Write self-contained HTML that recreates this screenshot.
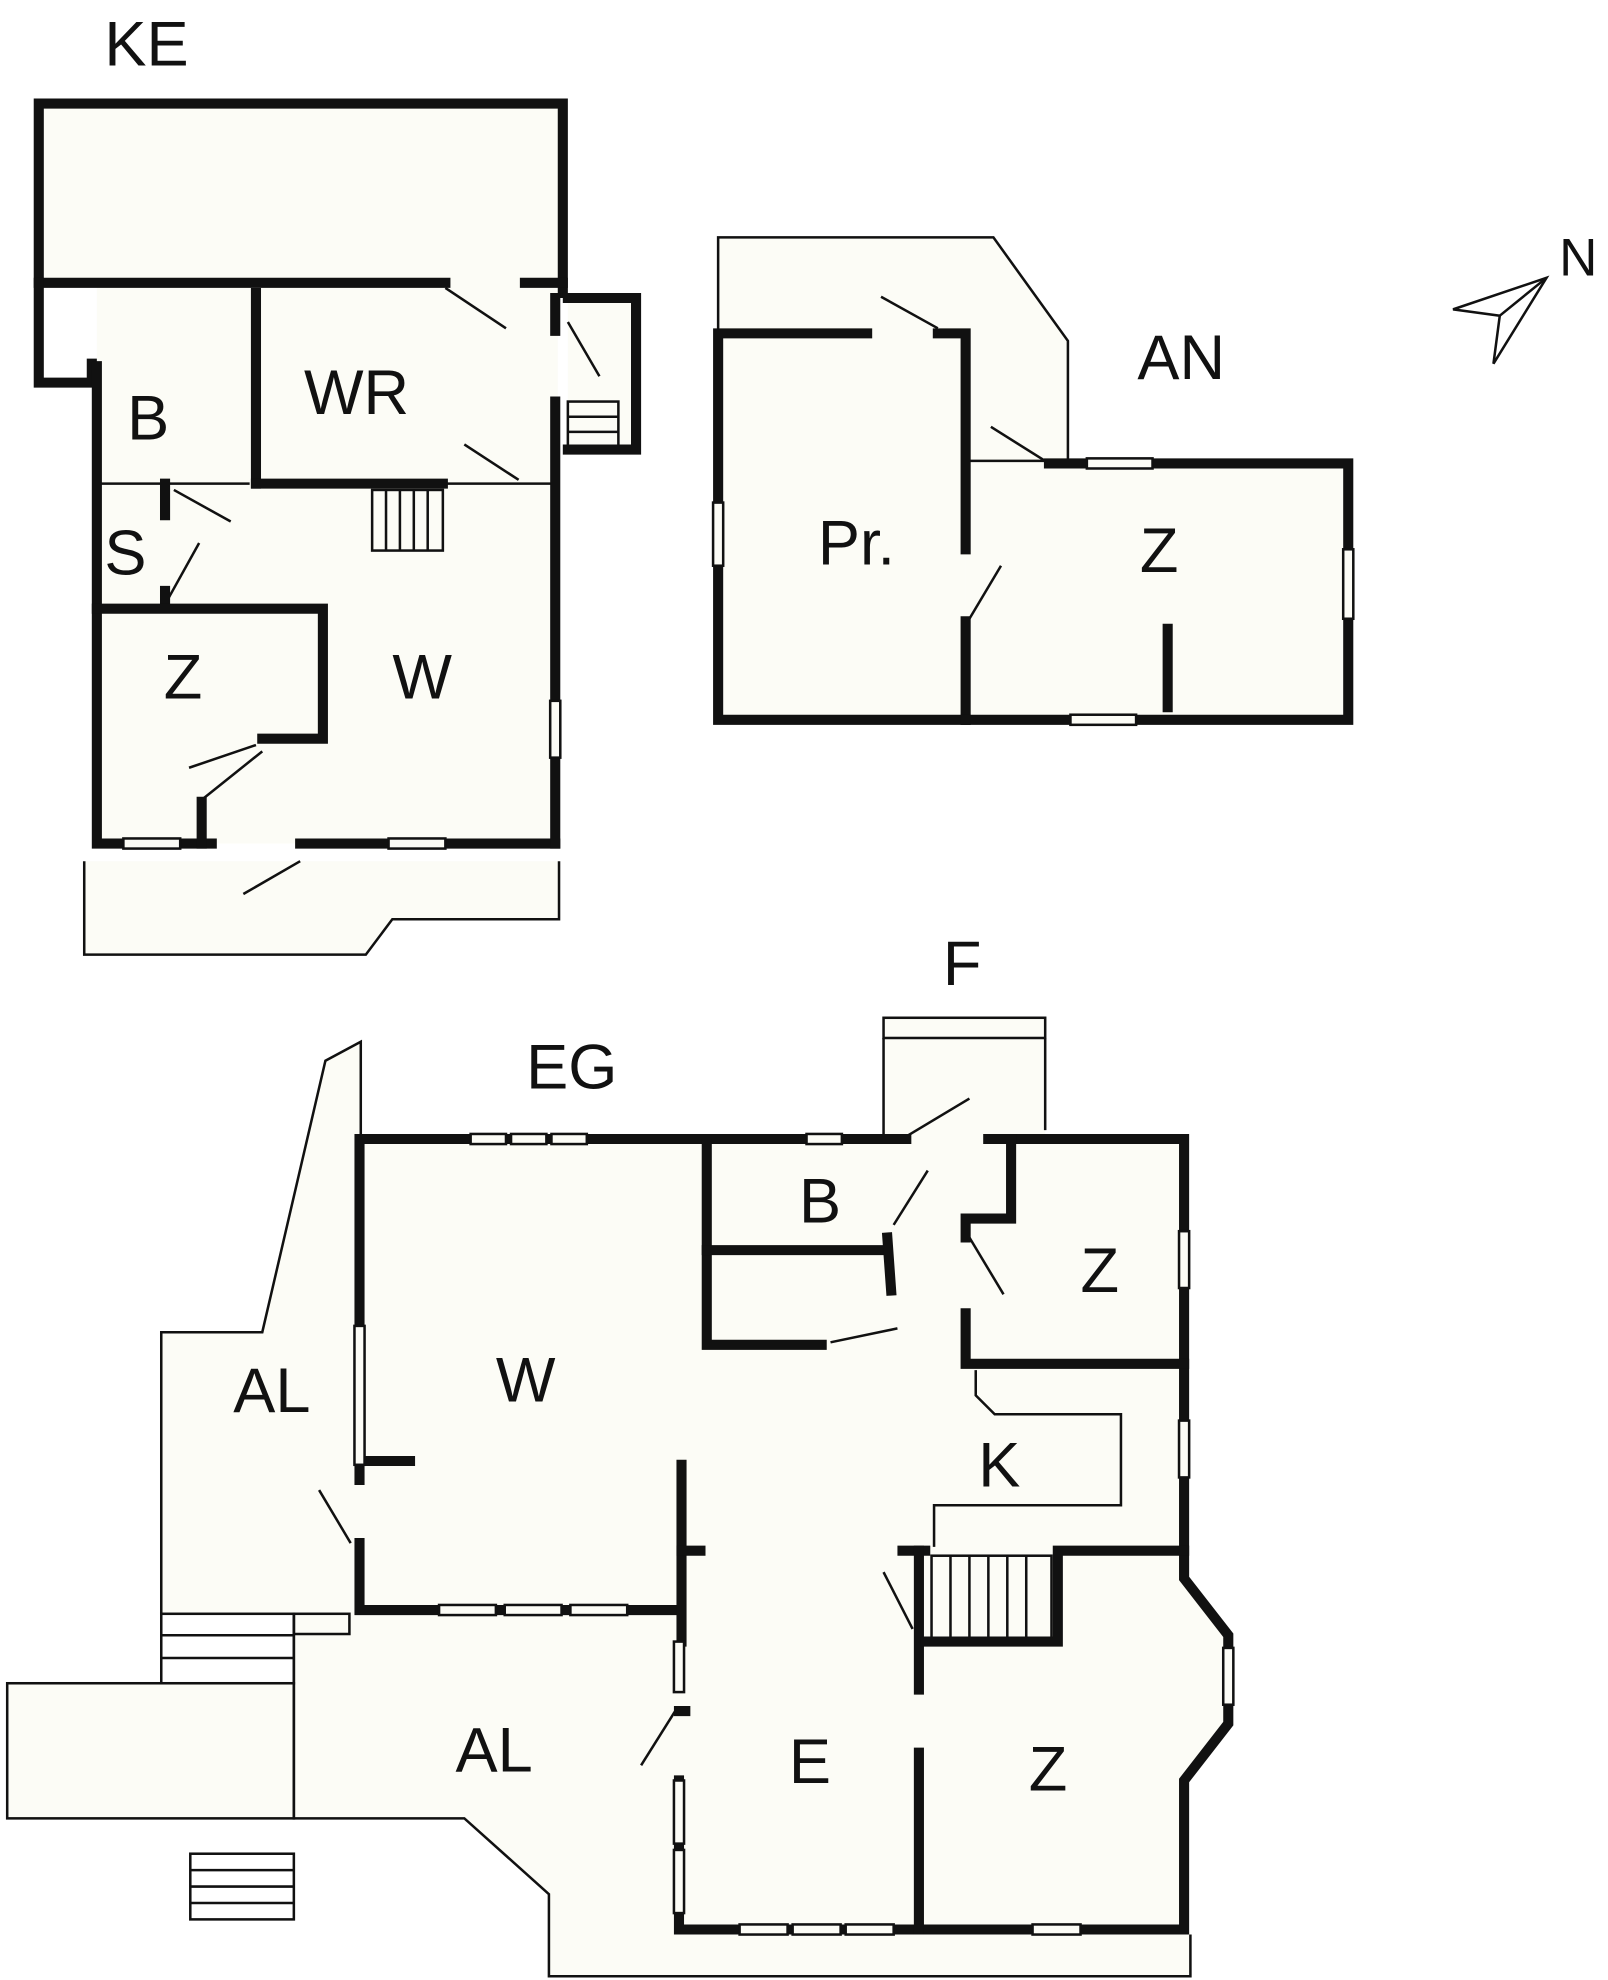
<!DOCTYPE html>
<html><head><meta charset="utf-8"><style>
html,body{margin:0;padding:0;background:#fff;}
svg{display:block;}
text{font-family:"Liberation Sans",sans-serif;font-size:50px;fill:#111;}
</style></head><body>
<svg width="1608" height="1980" viewBox="0 0 1268 1568" xmlns="http://www.w3.org/2000/svg">
<g fill="#fcfcf6" stroke="none">
<rect x="28" y="82" width="415" height="146"/>
<rect x="74" y="228" width="365" height="440"/>
<rect x="447" y="236" width="54" height="120"/>
<polygon points="64,682 440,682 440,728 308,728 287,756 64,756"/>
<polygon points="566,188 784,188 843,270 843,365 762,365 762,262 566,262"/>
<rect x="566" y="262" width="196" height="306"/>
<rect x="762" y="365" width="300" height="203"/>
<rect x="697" y="806" width="128" height="96"/>
<polygon points="282,902 935,902 935,1250 970,1295 970,1365 935,1410 935,1528 535,1528 535,1275 282,1275"/>
<polygon points="125,1278 125,1055 205,1055 255,840 283,825 283,1278"/>
<polygon points="230,1278 535,1278 535,1530 940,1530 940,1565 432,1565 432,1500 365,1440 230,1440"/>
<rect x="3" y="1333" width="227" height="107"/>
</g>
<g fill="none" stroke="#111" stroke-width="2">
<polyline points="64,682 64,756 287,756 308,728 440,728 440,682"/>
<rect x="447" y="318" width="40" height="40"/>
<line x1="447" y1="330" x2="487" y2="330"/><line x1="447" y1="342" x2="487" y2="342"/>
<line x1="75" y1="383" x2="195" y2="383"/>
<line x1="350" y1="383" x2="437" y2="383"/>
<rect x="292" y="388" width="56" height="48"/>
<line x1="303" y1="388" x2="303" y2="436"/><line x1="314" y1="388" x2="314" y2="436"/><line x1="325" y1="388" x2="325" y2="436"/><line x1="336" y1="388" x2="336" y2="436"/>
<line x1="350" y1="228" x2="398" y2="260"/>
<line x1="447" y1="255" x2="472" y2="298"/>
<line x1="365" y1="352" x2="408" y2="380"/>
<line x1="135" y1="388" x2="180" y2="413"/>
<line x1="130" y1="475" x2="155" y2="430"/>
<line x1="147" y1="608" x2="200" y2="590"/>
<line x1="155" y1="635" x2="205" y2="595"/>
<line x1="190" y1="708" x2="235" y2="682"/>
<polyline points="566,262 566,188 784,188 843,270 843,365"/>
<line x1="695" y1="235" x2="740" y2="260"/>
<line x1="782" y1="338" x2="825" y2="365"/>
<line x1="765" y1="490" x2="790" y2="448"/>
<line x1="762" y1="365" x2="825" y2="365"/>
<rect x="697" y="806" width="128" height="16"/>
<polyline points="697,822 697,902"/><polyline points="825,822 825,895"/>
<polyline points="125,1278 125,1055 205,1055 255,840 283,825 283,898"/>
<polyline points="230,1278 230,1440 365,1440 432,1500 432,1565 940,1565 940,1532"/>
<rect x="3" y="1333" width="227" height="107"/>
<rect x="125" y="1278" width="105" height="55"/>
<line x1="125" y1="1295" x2="230" y2="1295"/><line x1="125" y1="1313" x2="230" y2="1313"/>
<rect x="230" y="1278" width="44" height="16"/>
<rect x="148" y="1468" width="82" height="52"/>
<line x1="148" y1="1481" x2="230" y2="1481"/><line x1="148" y1="1494" x2="230" y2="1494"/><line x1="148" y1="1507" x2="230" y2="1507"/>
<polyline points="770,1085 770,1105 785,1120 885,1120 885,1192 737,1192 737,1225"/>
<rect x="735" y="1232" width="95" height="65"/>
<line x1="750" y1="1232" x2="750" y2="1297"/><line x1="765" y1="1232" x2="765" y2="1297"/><line x1="780" y1="1232" x2="780" y2="1297"/><line x1="795" y1="1232" x2="795" y2="1297"/><line x1="810" y1="1232" x2="810" y2="1297"/>
<line x1="715" y1="900" x2="765" y2="870"/>
<line x1="705" y1="970" x2="732" y2="927"/>
<line x1="655" y1="1063" x2="708" y2="1052"/>
<line x1="765" y1="980" x2="792" y2="1025"/>
<line x1="697" y1="1245" x2="720" y2="1290"/>
<line x1="250" y1="1180" x2="275" y2="1222"/>
<line x1="505" y1="1398" x2="532" y2="1355"/>
</g>
<g fill="none" stroke="#111" stroke-width="8" stroke-linecap="square">
<polyline points="350,224 28,224 28,82 443,82 443,232"/>
<line x1="413" y1="224" x2="443" y2="224"/>
<polyline points="28,224 28,303 70,303 70,288"/>
<polyline points="74,290 74,668 95,668"/>
<line x1="140" y1="668" x2="165" y2="668"/>
<line x1="235" y1="668" x2="305" y2="668"/>
<line x1="350" y1="668" x2="437" y2="668"/>
<polyline points="437,668 437,318"/>
<line x1="437" y1="262" x2="437" y2="236"/>
<polyline points="447,236 501,236 501,356 447,356"/>
<line x1="200" y1="232" x2="200" y2="383"/>
<line x1="200" y1="383" x2="348" y2="383"/>
<line x1="128" y1="383" x2="128" y2="408"/>
<line x1="128" y1="468" x2="128" y2="478"/>
<polyline points="74,482 253,482 253,585 205,585"/>
<line x1="157" y1="635" x2="157" y2="668"/>
<polyline points="684,264 566,264 566,570 762,570"/>
<polyline points="740,264 762,264 762,435"/>
<line x1="762" y1="492" x2="762" y2="570"/>
<polyline points="762,570 1065,570 1065,367 828,367"/>
<line x1="922" y1="498" x2="922" y2="560"/>
<polyline points="715,902 282,902 282,1050"/>
<line x1="282" y1="1160" x2="282" y2="1172"/>
<polyline points="282,1222 282,1275 535,1275"/>
<line x1="288" y1="1157" x2="322" y2="1157"/>
<polyline points="780,902 935,902 935,1250 970,1295 970,1365 935,1410 935,1528 535,1528 535,1410"/>
<line x1="535" y1="1355" x2="540" y2="1355"/>
<line x1="537" y1="1160" x2="537" y2="1300"/>
<line x1="537" y1="1228" x2="552" y2="1228"/>
<polyline points="557,906 557,1065 648,1065"/>
<line x1="557" y1="990" x2="700" y2="990"/>
<polyline points="700,980 703,1022"/>
<polyline points="780,902 798,902 798,965 762,965 762,980"/>
<polyline points="762,1040 762,1080 935,1080"/>
<line x1="712" y1="1228" x2="730" y2="1228"/>
<polyline points="725,1228 725,1338"/>
<polyline points="730,1300 835,1300 835,1228 935,1228"/>
<line x1="725" y1="1388" x2="725" y2="1528"/>
</g>
<g fill="#fcfcf6" stroke="#111" stroke-width="2">
<rect x="95" y="664" width="45" height="8"/>
<rect x="305" y="664" width="45" height="8"/>
<rect x="433" y="555" width="8" height="45"/>
<rect x="562" y="398" width="8" height="50"/>
<rect x="858" y="363" width="52" height="8"/>
<rect x="1061" y="435" width="8" height="55"/>
<rect x="845" y="566" width="52" height="8"/>
<rect x="370" y="898" width="28" height="8"/><rect x="402" y="898" width="28" height="8"/><rect x="434" y="898" width="28" height="8"/>
<rect x="636" y="898" width="28" height="8"/>
<rect x="278" y="1050" width="8" height="110"/>
<rect x="345" y="1271" width="45" height="8"/><rect x="397" y="1271" width="45" height="8"/><rect x="449" y="1271" width="45" height="8"/>
<rect x="931" y="975" width="8" height="45"/>
<rect x="931" y="1125" width="8" height="45"/>
<rect x="531" y="1300" width="8" height="40"/>
<rect x="531" y="1410" width="8" height="50"/><rect x="531" y="1465" width="8" height="50"/>
<rect x="583" y="1524" width="38" height="8"/><rect x="625" y="1524" width="38" height="8"/><rect x="667" y="1524" width="38" height="8"/>
<rect x="815" y="1524" width="38" height="8"/>
<rect x="966" y="1305" width="8" height="45"/>
</g>
<g fill="none" stroke="#111" stroke-width="2">
<polygon points="1148,245 1222,220 1180,288 1185,250"/>
<line x1="1222" y1="220" x2="1185" y2="250"/>
</g>
<text x="80" y="52">KE</text>
<text x="98" y="348">B</text>
<text x="238" y="328">WR</text>
<text x="80" y="455">S</text>
<text x="127" y="553">Z</text>
<text x="308" y="553">W</text>
<text x="898" y="300">AN</text>
<text x="645" y="447">Pr.</text>
<text x="900" y="453">Z</text>
<text x="1232" y="218" style="font-size:42px">N</text>
<text x="744" y="780">F</text>
<text x="414" y="862">EG</text>
<text x="630" y="968">B</text>
<text x="853" y="1023">Z</text>
<text x="390" y="1110">W</text>
<text x="182" y="1118">AL</text>
<text x="772" y="1177">K</text>
<text x="358" y="1403">AL</text>
<text x="622" y="1412">E</text>
<text x="812" y="1418">Z</text>
</svg>
</body></html>
